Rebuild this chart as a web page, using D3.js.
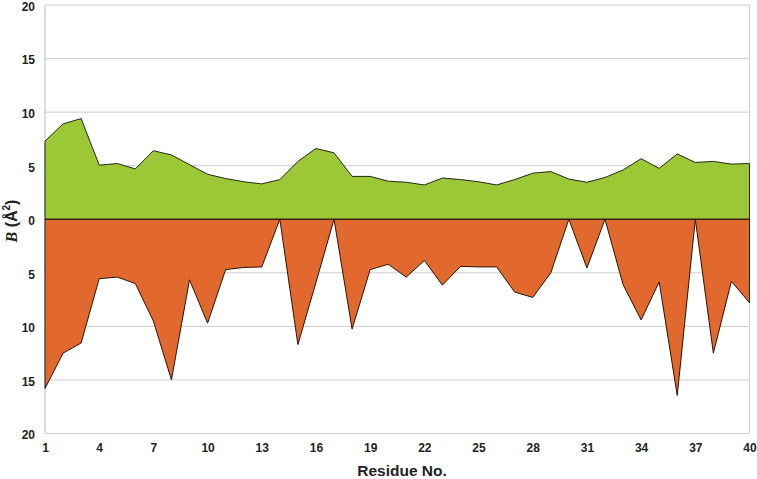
<!DOCTYPE html>
<html><head><meta charset="utf-8">
<script src="https://cdn.jsdelivr.net/npm/d3@7"></script>
<style>body{margin:0;background:#fff}svg{display:block}text{font-family:"Liberation Sans",Arial,sans-serif}</style>
</head><body><svg id="c" width="757" height="479"></svg>
<script>
const residues = d3.range(1, 41);
const upperB = [7.3,8.9,9.4,5.05,5.2,4.7,6.4,6.0,5.1,4.2,3.8,3.5,3.3,3.7,5.4,6.6,6.2,4.0,4.0,3.55,3.45,3.2,3.85,3.7,3.5,3.2,3.7,4.3,4.45,3.75,3.45,3.9,4.6,5.65,4.75,6.1,5.3,5.4,5.15,5.2];
const lowerB = [15.8,12.5,11.55,5.55,5.4,6.0,9.5,15.0,5.65,9.7,4.7,4.5,4.45,0,11.7,5.9,0,10.25,4.7,4.2,5.4,3.85,6.15,4.4,4.45,4.45,6.8,7.3,5.0,0,4.55,0,6.1,9.4,5.85,16.45,0,12.5,5.8,7.8];
const xTicks = [1,4,7,10,13,16,19,22,25,28,31,34,37,40];
const yTicks = [-20,-15,-10,-5,0,5,10,15,20];

const svg = d3.select("#c");
const L = 45, R = 749.5, T = 5, B = 433.5;
const x = d3.scaleLinear().domain([1, 40]).range([L, R]);
const y = d3.scaleLinear().domain([-20, 20]).range([B, T]);

// gridlines
svg.append("g").selectAll("line").data(yTicks.filter(v => v !== 0)).join("line")
  .attr("x1", L).attr("x2", R).attr("y1", d => y(d)).attr("y2", d => y(d))
  .attr("stroke", "#cccccc").attr("stroke-width", 1);
// frame
svg.append("line").attr("x1", L).attr("x2", L).attr("y1", T).attr("y2", B).attr("stroke", "#bbbbbb");
svg.append("line").attr("x1", R).attr("x2", R).attr("y1", T).attr("y2", B).attr("stroke", "#cccccc");

const up = residues.map((r, i) => ({r, v: upperB[i]}));
const lo = residues.map((r, i) => ({r, v: -lowerB[i]}));
const area = d3.area().x(d => x(d.r)).y0(y(0)).y1(d => y(d.v));
const line = d3.line().x(d => x(d.r)).y(d => y(d.v));

svg.append("path").datum(up).attr("d", area).attr("fill", "#9cc838");
svg.append("path").datum(lo).attr("d", area).attr("fill", "#e2692e");
svg.append("path").datum(up).attr("d", line).attr("fill", "none").attr("stroke", "#1f2a10").attr("stroke-width", 1);
svg.append("path").datum(lo).attr("d", line).attr("fill", "none").attr("stroke", "#2a1208").attr("stroke-width", 1);
svg.append("line").attr("x1", L).attr("x2", R).attr("y1", y(0)).attr("y2", y(0)).attr("stroke", "#3a2010").attr("stroke-width", 1.5);
svg.append("line").attr("x1", R).attr("x2", R).attr("y1", y(upperB[39])).attr("y2", y(-lowerB[39])).attr("stroke", "#222").attr("stroke-width", 1);
svg.append("line").attr("x1", L).attr("x2", L).attr("y1", y(upperB[0])).attr("y2", y(-lowerB[0])).attr("stroke", "#222").attr("stroke-width", 1);

// y labels
const yAxis = d3.axisLeft(y).tickValues(yTicks).tickSize(0).tickPadding(10).tickFormat(d => Math.abs(d));
const gy = svg.append("g").attr("transform", `translate(${L},1.5)`).call(yAxis);
gy.select(".domain").remove();
gy.selectAll("text").attr("font-size", 12).attr("font-weight", "bold").attr("fill", "#222").attr("font-family", "Liberation Sans, Arial, sans-serif");

const xAxis = d3.axisBottom(x).tickValues(xTicks).tickSize(0).tickPadding(10).tickFormat(d3.format("d"));
const gx = svg.append("g").attr("transform", `translate(0,${B})`).call(xAxis);
gx.select(".domain").remove();
gx.selectAll("text").attr("font-size", 12).attr("font-weight", "bold").attr("fill", "#222").attr("font-family", "Liberation Sans, Arial, sans-serif");

svg.append("text").attr("x", 402).attr("y", 476).attr("text-anchor", "middle")
  .attr("font-size", 15.5).attr("font-weight", "bold").attr("fill", "#222").text("Residue No.");

const yt = svg.append("text").attr("transform", "translate(17,221) rotate(-90)").attr("text-anchor", "middle")
  .attr("font-size", 16).attr("font-weight", "bold").attr("fill", "#222");
yt.append("tspan").attr("font-family", "Liberation Serif, Times New Roman, serif").attr("font-style", "italic").text("B");
yt.append("tspan").text(" (Å");
yt.append("tspan").attr("font-size", 10).attr("dy", -7).text("2");
yt.append("tspan").attr("dy", 7).text(")");
</script></body></html>
